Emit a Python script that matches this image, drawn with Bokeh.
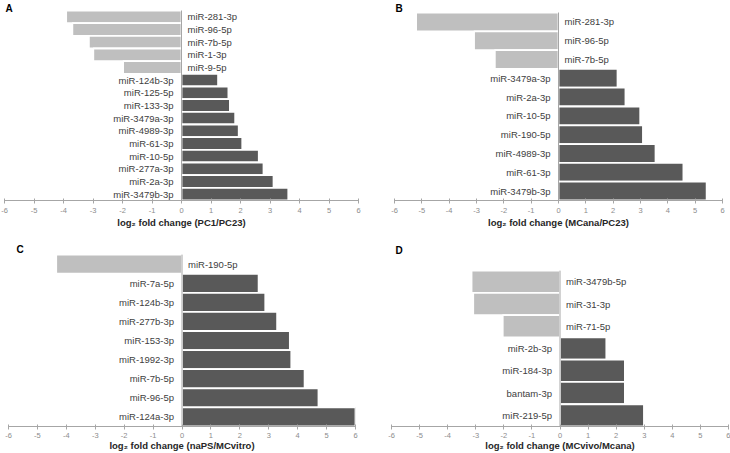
from bokeh.plotting import figure
from bokeh.models import Range1d, ColumnDataSource, Label, FixedTicker
from bokeh.layouts import row, column
from bokeh.embed import file_html
from bokeh.resources import INLINE
from bokeh.core.properties import value

# ---------------- data ----------------
a_labels = ["miR-281-3p", "miR-96-5p", "miR-7b-5p", "miR-1-3p", "miR-9-5p",
            "miR-124b-3p", "miR-125-5p", "miR-133-3p", "miR-3479a-3p", "miR-4989-3p",
            "miR-61-3p", "miR-10-5p", "miR-277a-3p", "miR-2a-3p", "miR-3479b-3p"]
a_values = [-3.91, -3.70, -3.14, -2.99, -1.98,
            1.24, 1.59, 1.64, 1.82, 1.94, 2.06, 2.62, 2.78, 3.12, 3.62]

b_labels = ["miR-281-3p", "miR-96-5p", "miR-7b-5p", "miR-3479a-3p", "miR-2a-3p",
            "miR-10-5p", "miR-190-5p", "miR-4989-3p", "miR-61-3p", "miR-3479b-3p"]
b_values = [-5.21, -3.09, -2.33, 2.16, 2.45, 2.99, 3.09, 3.55, 4.57, 5.42]

c_labels = ["miR-190-5p", "miR-7a-5p", "miR-124b-3p", "miR-277b-3p", "miR-153-3p",
            "miR-1992-3p", "miR-7b-5p", "miR-96-5p", "miR-124a-3p"]
c_values = [-4.35, 2.65, 2.88, 3.29, 3.73, 3.78, 4.24, 4.72, 6.0]

d_labels = ["miR-3479b-5p", "miR-31-3p", "miR-71-5p", "miR-2b-3p", "miR-184-3p",
            "bantam-3p", "miR-219-5p"]
d_values = [-3.15, -3.09, -2.04, 1.65, 2.31, 2.31, 2.99]

tick_values = list(range(-6, 7))
tick_labels = [str(t) for t in tick_values]

FONT = "Liberation Sans"
NEG = "#BFBFBF"
POS = "#595959"
AXIS = "#A6A6A6"


def panel(letter, labels, values, title, w, h, left, right, top,
          frame_top, bars_top, axis_y, letter_dx, letter_dy,
          label_standoff, title_standoff):
    n = len(labels)
    ys = list(range(n))
    pad = n * (bars_top - frame_top) / (axis_y - bars_top)
    p = figure(width=w, height=h, x_range=Range1d(-6, 6),
               y_range=Range1d(n - 0.5, -0.5 - pad),
               output_backend="svg", toolbar_location=None,
               y_axis_location=None,
               min_border_left=left, min_border_right=right,
               min_border_top=top, min_border_bottom=0)
    p.outline_line_color = None
    p.grid.visible = False
    p.background_fill_color = "white"
    p.border_fill_color = "white"

    colors = [NEG if v < 0 else POS for v in values]
    src = ColumnDataSource(dict(y=ys, v=values, c=colors))
    p.hbar(y="y", left=0, right="v", height=1.0, fill_color="c",
           line_color="white", line_width=1.8, source=src)

    neg = ColumnDataSource(dict(
        y=[y for y, v in zip(ys, values) if v < 0],
        t=[l for l, v in zip(labels, values) if v < 0],
        x=[0 for v in values if v < 0]))
    pos = ColumnDataSource(dict(
        y=[y for y, v in zip(ys, values) if v >= 0],
        t=[l for l, v in zip(labels, values) if v >= 0],
        x=[0 for v in values if v >= 0]))
    p.text(x="x", y="y", text="t", source=neg, x_offset=6,
           text_align="left", text_baseline="middle",
           text_font=value(FONT), text_font_size="9.5px", text_color="#404040")
    p.text(x="x", y="y", text="t", source=pos, x_offset=-8,
           text_align="right", text_baseline="middle",
           text_font=value(FONT), text_font_size="9.5px", text_color="#404040")

    # zero (category) axis line spanning the bars
    p.segment(x0=[0], y0=[n - 0.5], x1=[0], y1=[-0.5],
              line_color=AXIS, line_width=1)

    ax = p.xaxis[0]
    ax.ticker = FixedTicker(ticks=tick_values)
    ax.major_label_overrides = {t: s for t, s in zip(tick_values, tick_labels)}
    ax.minor_tick_line_color = None
    ax.axis_line_color = AXIS
    ax.major_tick_line_color = AXIS
    ax.major_tick_in = 2
    ax.major_tick_out = 3
    ax.major_label_standoff = label_standoff
    ax.major_label_text_font = FONT
    ax.major_label_text_font_size = "7.5px"
    ax.major_label_text_color = "#8C8C8C"
    ax.axis_label = title
    ax.axis_label_standoff = title_standoff
    ax.axis_label_text_font = FONT
    ax.axis_label_text_font_size = "9.5px"
    ax.axis_label_text_font_style = "bold"
    ax.axis_label_text_color = "#262626"

    p.add_layout(Label(x=-6, y=-0.5 - pad, x_offset=letter_dx, y_offset=-letter_dy,
                       text=letter, text_font=FONT, text_font_size="10px",
                       text_font_style="bold", text_color="#000000",
                       text_baseline="top", text_align="left"))
    return p


pa = panel("A", a_labels, a_values, "log\u2082 fold change (PC1/PC23)",
           365, 230, 4, 7, 2, 2, 10, 200, 1, 0, 4, 1)
pb = panel("B", b_labels, b_values, "log\u2082 fold change (MCana/PC23)",
           365, 230, 29, 8, 2, 2, 12, 200, 1, 0, 4, 1)
pc = panel("C", c_labels, c_values, "log\u2082 fold change (naPS/MCvitro)",
           365, 223, 8, 10, 12, 242, 254, 424, 8, 1, 3, -1)
pd = panel("D", d_labels, d_values, "log\u2082 fold change (MCvivo/Mcana)",
           365, 223, 26, 2, 12, 242, 270, 425, 4, 2, 3, -1)

layout = column(row(pa, pb), row(pc, pd))

with open("out.html", "w") as f:
    f.write(file_html(layout, INLINE))
